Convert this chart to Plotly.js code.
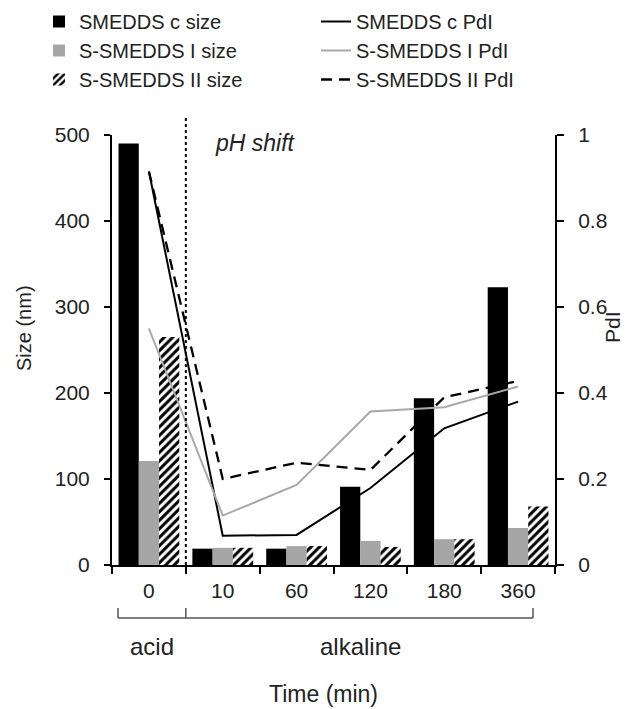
<!DOCTYPE html>
<html>
<head>
<meta charset="utf-8">
<script src="https://cdn.plot.ly/plotly-3.0.1.min.js"></script>
<style>html,body{margin:0;padding:0;background:#fff;}#chart{width:626px;height:709px;}</style>
</head>
<body>
<div id="chart"></div>
<script>
// ---- data ----
const times = ['0', '10', '60', '120', '180', '360'];
const sizeC = [490, 19, 19, 91, 194, 323];
const sizeI = [121, 20, 22, 28, 30, 43];
const sizeII = [265, 20, 22, 21, 30, 68];
const pdiC = [0.915, 0.068, 0.07, 0.179, 0.318, 0.38];
const pdiI = [0.55, 0.115, 0.186, 0.357, 0.367, 0.415];
const pdiII = [0.915, 0.2, 0.238, 0.221, 0.39, 0.428];
const sizeTicks = [0, 100, 200, 300, 400, 500];
const pdiTicks = [0, 0.2, 0.4, 0.6, 0.8, 1];
const pdiTickText = ['0', '0.2', '0.4', '0.6', '0.8', '1'];

// ---- layout helpers (pixel -> paper) ----
const W = 626, H = 709;
const mL = 112, mR = 71, mT = 135, mB = 144;
const pw = W - mL - mR, ph = H - mT - mB;
const px = x => (x - mL) / pw;
const py = y => (H - mB - y) / ph;

const FONT = 'Liberation Sans, Arial, sans-serif';
const TXT = '#222';

const traces = [
  {type: 'bar', name: 'SMEDDS c size', x: times, y: sizeC,
   marker: {color: '#000', line: {width: 0}}},
  {type: 'scatter', mode: 'lines', name: 'SMEDDS c PdI', x: times, y: pdiC, yaxis: 'y2',
   line: {color: '#000', width: 2}},
  {type: 'bar', name: 'S-SMEDDS I size', x: times, y: sizeI,
   marker: {color: '#a6a6a6', line: {width: 0}}},
  {type: 'scatter', mode: 'lines', name: 'S-SMEDDS I PdI', x: times, y: pdiI, yaxis: 'y2',
   line: {color: '#a8a8a8', width: 2}},
  {type: 'bar', name: 'S-SMEDDS II size', x: times, y: sizeII,
   marker: {color: '#fff', line: {width: 0},
            pattern: {shape: '/', fgcolor: '#000', bgcolor: '#fff', size: 6, solidity: 0.5}}},
  {type: 'scatter', mode: 'lines', name: 'S-SMEDDS II PdI', x: times, y: pdiII, yaxis: 'y2',
   line: {color: '#000', width: 2.3, dash: '11px,7px'}}
];

const bracketY = 618, bracketTop = 608;
const shapes = [
  // pH shift divider
  {type: 'line', xref: 'x', yref: 'paper', x0: 0.5, x1: 0.5, y0: 0, y1: py(118),
   line: {color: '#000', width: 2, dash: 'dot'}},
  // bracket below axis
  {type: 'line', xref: 'paper', yref: 'paper', x0: px(118), x1: px(533), y0: py(bracketY), y1: py(bracketY),
   line: {color: '#555', width: 1.5}},
  {type: 'line', xref: 'paper', yref: 'paper', x0: px(118), x1: px(118), y0: py(bracketY), y1: py(bracketTop),
   line: {color: '#555', width: 1.5}},
  {type: 'line', xref: 'x', yref: 'paper', x0: 0.5, x1: 0.5, y0: py(bracketY), y1: py(bracketTop),
   line: {color: '#555', width: 1.5}},
  {type: 'line', xref: 'paper', yref: 'paper', x0: px(533), x1: px(533), y0: py(bracketY), y1: py(bracketTop),
   line: {color: '#555', width: 1.5}}
];

const ann = (text, x, y, size, opts) => Object.assign({
  text, xref: 'paper', yref: 'paper', x: px(x), y: py(y), xanchor: 'center', yanchor: 'middle',
  showarrow: false, font: {family: FONT, size: size, color: TXT}
}, opts || {});

const annotations = [
  ann('<i>pH shift</i>', 255, 143, 23),
  ann('acid', 152, 646, 24),
  ann('alkaline', 360, 646, 24),
  ann('Time (min)', 323, 694, 23),
  ann('Size (nm)', 24, 328, 20, {textangle: -90}),
  ann('PdI', 612, 327, 21, {textangle: -90})
];

const layout = {
  width: W, height: H,
  margin: {l: mL, r: mR, t: mT, b: mB, autoexpand: false},
  paper_bgcolor: '#fff', plot_bgcolor: '#fff',
  font: {family: FONT, size: 21, color: TXT},
  barmode: 'group', bargap: 0.177, bargroupgap: 0,
  showlegend: true,
  legend: {orientation: 'h', x: px(39), y: py(2), xanchor: 'left', yanchor: 'top',
           entrywidth: 232, entrywidthmode: 'pixels', traceorder: 'normal',
           font: {family: FONT, size: 20, color: TXT}, bgcolor: 'rgba(0,0,0,0)'},
  xaxis: {type: 'category', categoryorder: 'array', categoryarray: times,
          range: [-0.5, 5.5], tickson: 'boundaries', ticks: 'outside', ticklen: 7, tickwidth: 2,
          tickcolor: '#000', showline: true, linecolor: '#000', linewidth: 2, showgrid: false,
          zeroline: false, fixedrange: true, ticklabelstandoff: 6},
  yaxis: {range: [0, 500], tickvals: sizeTicks, ticks: 'outside', ticklen: 6, tickwidth: 2,
          tickcolor: '#000', showline: true, linecolor: '#000', linewidth: 2, showgrid: false,
          zeroline: false, ticklabelstandoff: 10},
  yaxis2: {range: [0, 1], tickvals: pdiTicks, ticktext: pdiTickText, overlaying: 'y', side: 'right',
           anchor: 'x', ticks: 'outside', ticklen: 7, tickwidth: 2, tickcolor: '#000',
           showline: true, linecolor: '#000', linewidth: 2, showgrid: false, zeroline: false,
           ticklabelstandoff: 10},
  shapes, annotations
};

Plotly.newPlot('chart', traces, layout, {displayModeBar: false, staticPlot: true});
</script>
</body>
</html>
